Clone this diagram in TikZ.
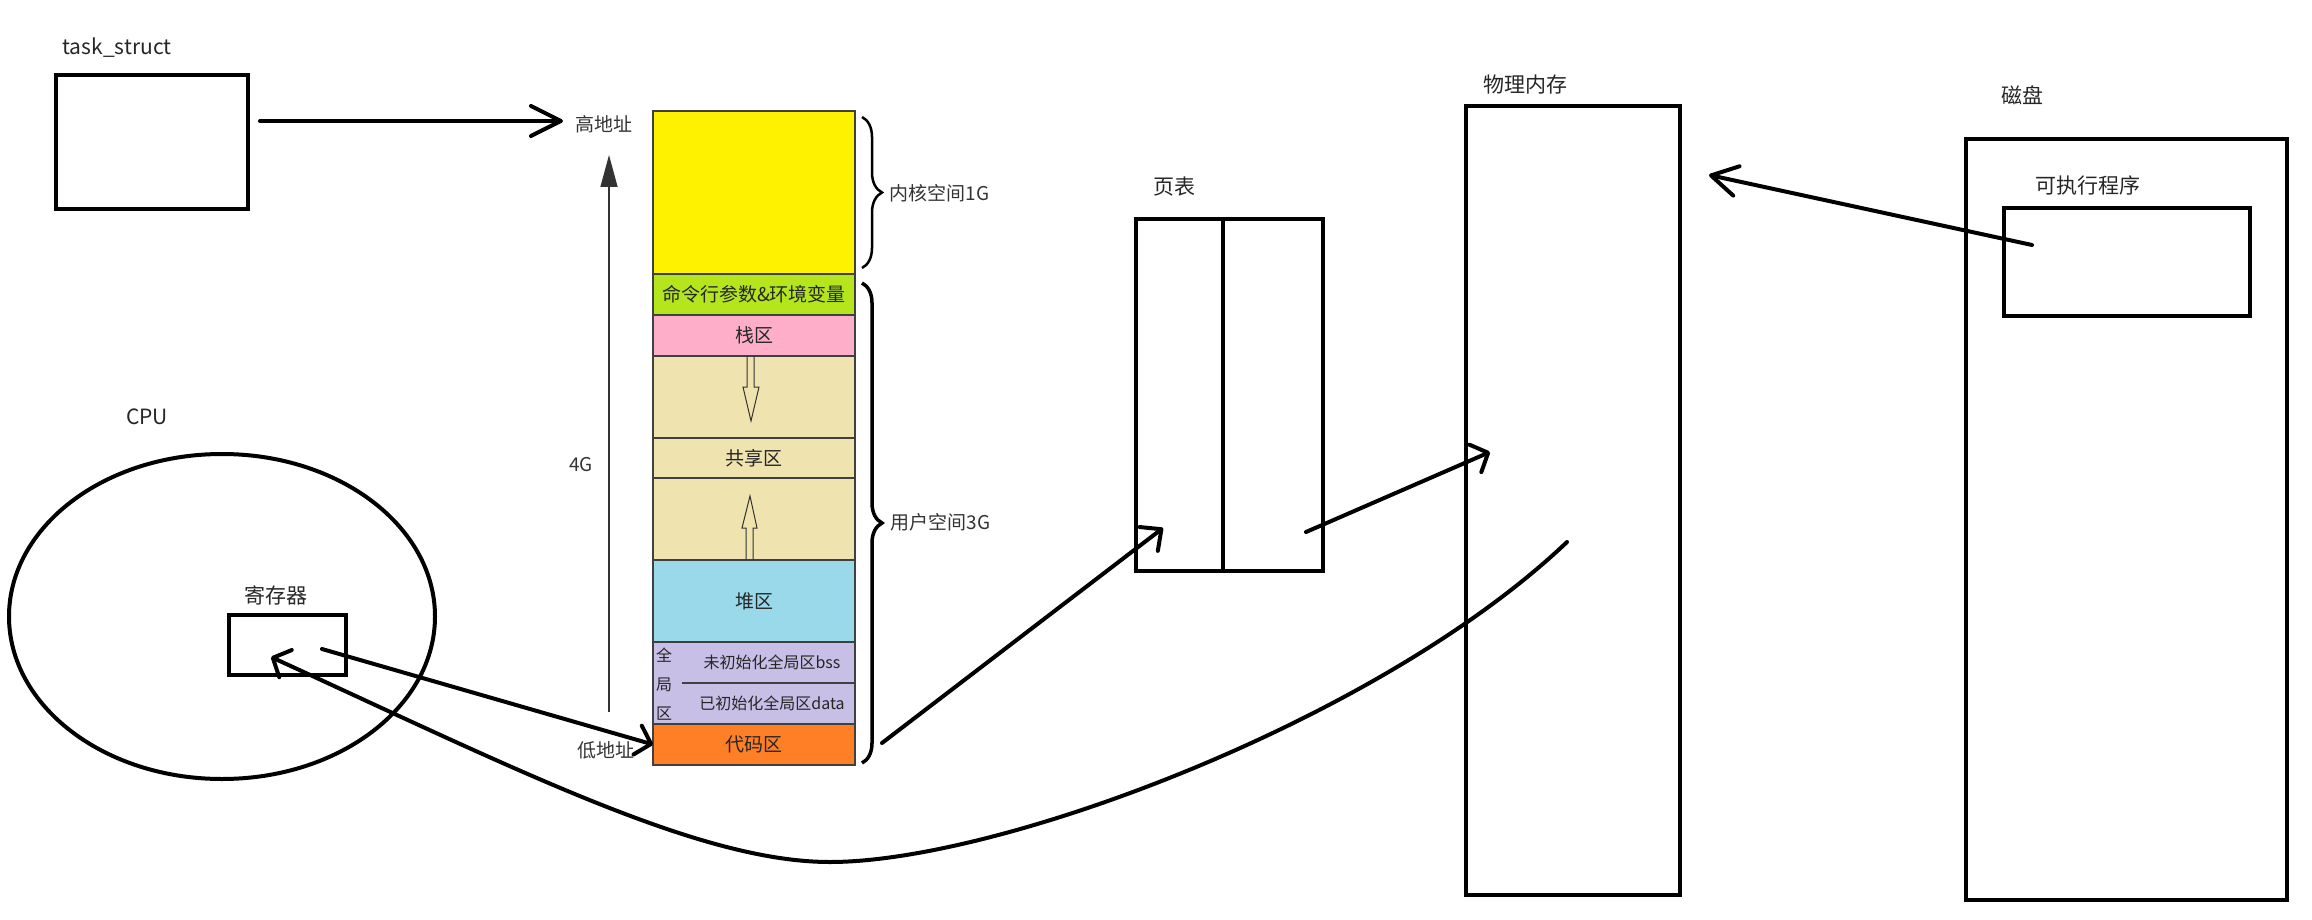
\documentclass[tikz,border=0pt]{standalone}
\usepackage{fontspec}
\setmainfont{Noto Sans CJK SC}
\usepackage{xcolor}
\usetikzlibrary{arrows.meta, positioning, shapes.geometric, decorations.pathreplacing}
\definecolor{kyellow}{HTML}{FFF200}
\definecolor{kgreen}{HTML}{B5E61D}
\definecolor{kpink}{HTML}{FFAEC9}
\definecolor{ktan}{HTML}{EFE4B0}
\definecolor{kblue}{HTML}{99D9EA}
\definecolor{kpurple}{HTML}{C8BFE7}
\definecolor{korange}{HTML}{FF7F27}

\begin{document}
\begin{tikzpicture}[
  x=1pt, y=-1pt,
  box/.style={draw, line width=4pt, inner sep=0pt, outer sep=0pt},
  seg/.style={draw=black!75, line width=1.5pt, minimum width=202pt, inner sep=0pt, outer sep=0pt, text=black!85, font=\fontsize{19}{19}\selectfont},
  small/.style={text=black!85, inner sep=0pt, font=\fontsize{16}{16}\selectfont},
  lbl/.style={text=black!85, font=\fontsize{21}{24}\selectfont},
  side/.style={text=black!80, font=\fontsize{19}{19}\selectfont},
  arrow/.style={line width=4pt, line cap=round, -{Straight Barb[length=#1, width=30pt, round]}},
  arrow/.default=22pt,
  brace/.style={decorate, decoration={brace, amplitude=20pt}},
  hollow/.style={draw=black!80, line width=1pt}
]
\useasboundingbox (0,0) rectangle (2312,920);

% boxes
\node[box, minimum width=192pt, minimum height=134pt] (task) at (152,142) {};
\node[lbl] (tasklbl) at (117,48) {task\_struct};
\node[box, ellipse, minimum width=426pt, minimum height=325pt] (cpu) at (222,616.5) {};
\node[lbl] (cpulbl) at (147,417) {CPU};
\node[box, minimum width=117pt, minimum height=60pt] (reg) at (287.5,645) {};
\node[lbl] (reglbl) at (276,595) {寄存器};
\node[box, minimum width=187pt, minimum height=352pt] (pt) at (1229.5,395) {};
\node[lbl] (ptlbl) at (1174,187) {页表};
\node[box, minimum width=214pt, minimum height=789pt] (mem) at (1573,500.5) {};
\node[lbl] (memlbl) at (1525,85) {物理内存};
\node[box, minimum width=321pt, minimum height=761pt] (disk) at (2126.5,519.5) {};
\node[lbl] (disklbl) at (2022,95) {磁盘};
\node[box, minimum width=246pt, minimum height=108pt] (exe) at (2127,262) {};
\node[lbl] (exelbl) at (2088,185) {可执行程序};
\draw[line width=4pt] (pt.north west) ++(87,0) -- ++(0,352);

% address space
\node[seg, fill=kyellow, minimum height=163pt] (kernel) at (754,192.5) {};
\node[seg, fill=kgreen, minimum height=41pt, below=0pt of kernel] (args) {命令行参数\&环境变量};
\node[seg, fill=kpink, minimum height=41pt, below=0pt of args] (stack) {栈区};
\node[seg, fill=ktan, minimum height=82pt, below=0pt of stack] (gap1) {};
\node[seg, fill=ktan, minimum height=40pt, below=0pt of gap1] (shared) {共享区};
\node[seg, fill=ktan, minimum height=82pt, below=0pt of shared] (gap2) {};
\node[seg, fill=kblue, minimum height=82pt, below=0pt of gap2] (heap) {堆区};
\node[seg, fill=kpurple, minimum height=82pt, below=0pt of heap] (glob) {};
\node[seg, fill=korange, minimum height=41pt, below=0pt of glob] (code) {代码区};
\draw[black!75, line width=1.2pt] (glob.west) ++(29,0) -- (glob.east);
\node[small] (bss) at (772,662) {未初始化全局区bss};
\node[small] (data) at (772,703) {已初始化全局区data};
\node[small, align=center, font=\fontsize{16}{29}\selectfont] (globname) at (664,684) {全\\局\\区};
\draw[hollow] (747,356) -- (747,387) -- (743,387) -- (751,421) -- (759,387) -- (754,387) -- (754,356);
\draw[hollow] (746,560) -- (746,528) -- (742,528) -- (750,496) -- (757,528) -- (753,528) -- (753,560);

\draw[brace, line width=2.5pt] (862,117) -- (862,268);
\draw[brace, line width=3.5pt] (862,283) -- (862,763);
\node[side, anchor=west] (kspace) at (886,193) {内核空间1G};
\node[side, anchor=west] (uspace) at (887,522) {用户空间3G};

\node[side] (high) at (604,124) {高地址};
\node[side] (low) at (606,750) {低地址};
\node[side] (size) at (581,465) {4G};
\coordinate (axisbot) at (609,712);
\coordinate (axistop) at (609,155);
\draw[line width=1.5pt, black!80, -{Triangle[length=32pt, width=17pt]}] (axisbot) -- (axistop);

% connectors
\coordinate (taskout) at (260,121);
\coordinate (regout) at (322,649);
\coordinate (regin) at (271,657);
\coordinate (codeout) at (882,743);
\coordinate (ptin) at (1163,528);
\coordinate (ptout) at (1306,532);
\coordinate (memin) at (1490,452);
\coordinate (curveend) at (1567,542);
\coordinate (exeout) at (2032,245);
\coordinate (diskin) at (1709,175);

\draw[arrow=30pt, shorten >=9pt] (taskout) -- (taskout -| high.west);
\draw[arrow=14pt] (regout) -- (code.west);
\draw[line width=4pt, line cap=round, {Straight Barb[length=14pt, width=30pt, round]}-] (regin) .. controls (520,771) and (700,862) .. (830,862) .. controls (1000,862) and (1380,720) .. (curveend);
\draw[arrow=16pt] (codeout) -- (ptin);
\draw[arrow=14pt] (ptout) -- (memin);
\draw[arrow=26pt] (exeout) -- (diskin);
\end{tikzpicture}
\end{document}
